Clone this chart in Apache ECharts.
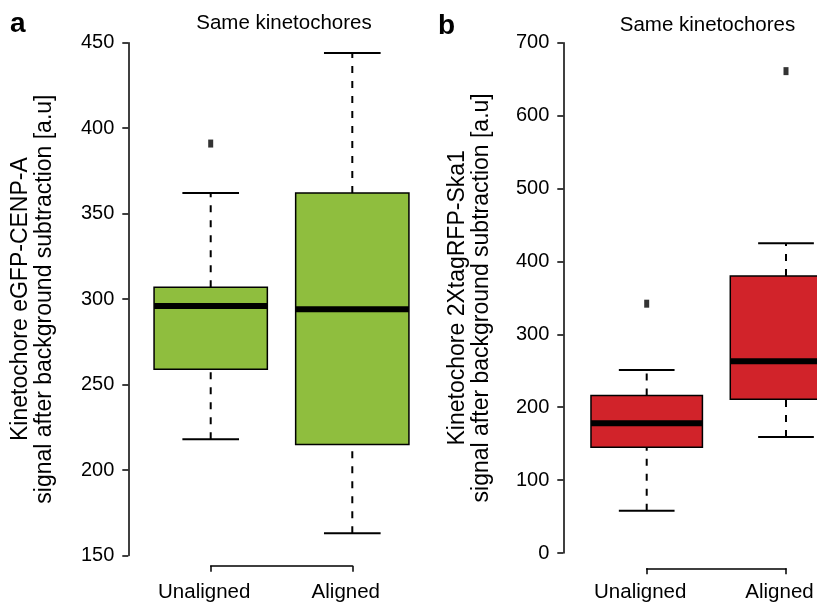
<!DOCTYPE html>
<html>
<head>
<meta charset="utf-8">
<script src="https://cdn.jsdelivr.net/npm/echarts@6/dist/echarts.min.js"></script>
<style>
html,body{margin:0;padding:0;background:#fff;}
#chart{width:817px;height:606px;}
</style>
</head>
<body>
<div id="chart"></div>
<script>
// ---- data ----
const categories = ['Unaligned', 'Aligned'];
// [lowerWhisker, Q1, median, Q3, upperWhisker]
const cenpaBoxes = [
  [218, 259, 296, 307, 362],
  [163, 215, 294, 362, 444]
];
const cenpaOutliers = [[0, 391]];
const ska1Boxes = [
  [58, 145, 178, 216, 251],
  [159, 211, 263, 380, 425]
];
const ska1Outliers = [[0, 342], [1, 661]];
const cenpaTicks = { min: 150, max: 450, interval: 50 };
const ska1Ticks = { min: 0, max: 700, interval: 100 };

const FONT = "'Liberation Sans', Arial, Helvetica, sans-serif";
const GREEN = '#8FBE3E';
const RED = '#D1232A';

function renderBox(params, api) {
  const x = api.value(0);
  const lo = api.coord([x, api.value(1)]);
  const q1 = api.coord([x, api.value(2)]);
  const med = api.coord([x, api.value(3)]);
  const q3 = api.coord([x, api.value(4)]);
  const hi = api.coord([x, api.value(5)]);
  const band = api.size([1, 0])[0];
  const half = band * 0.4;
  const capHalf = band * 0.2;
  const cx = lo[0];
  const color = api.visual('color');
  const dash = { stroke: '#000', lineWidth: 2, lineDash: [7, 8], fill: null };
  const solid = { stroke: '#000', lineWidth: 2, fill: null };
  return {
    type: 'group',
    children: [
      { type: 'line', shape: { x1: cx, y1: lo[1], x2: cx, y2: q1[1] }, style: dash },
      { type: 'line', shape: { x1: cx, y1: q3[1], x2: cx, y2: hi[1] }, style: dash },
      { type: 'line', shape: { x1: cx - capHalf, y1: lo[1], x2: cx + capHalf, y2: lo[1] }, style: solid },
      { type: 'line', shape: { x1: cx - capHalf, y1: hi[1], x2: cx + capHalf, y2: hi[1] }, style: solid },
      { type: 'rect', shape: { x: cx - half, y: q3[1], width: half * 2, height: q1[1] - q3[1] },
        style: { fill: color, stroke: '#000', lineWidth: 1.5 } },
      { type: 'line', shape: { x1: cx - half, y1: med[1], x2: cx + half, y2: med[1] },
        style: { stroke: '#000', lineWidth: 6 } }
    ]
  };
}

function boxData(boxes) {
  return boxes.map((b, i) => [i].concat(b));
}

function yAxisFor(gridIndex, ticks, offset, name, nameGap) {
  return {
    gridIndex: gridIndex,
    type: 'value',
    min: ticks.min, max: ticks.max, interval: ticks.interval,
    offset: offset,
    axisLine: { show: true, onZero: false, lineStyle: { color: '#000', width: 1.5 } },
    axisTick: { show: true, length: 6, lineStyle: { color: '#000', width: 1.5 } },
    axisLabel: { color: '#000', fontSize: 20, fontFamily: FONT, margin: 14 },
    splitLine: { show: false },
    name: name,
    nameLocation: 'middle',
    nameRotate: 90,
    nameGap: nameGap,
    nameTextStyle: { color: '#000', fontSize: 23, fontFamily: FONT, lineHeight: 24 }
  };
}

function xAxisFor(gridIndex, offset, margin) {
  return {
    gridIndex: gridIndex,
    type: 'category',
    data: categories,
    boundaryGap: false,
    offset: offset,
    axisLine: { show: true, onZero: false, lineStyle: { color: '#000', width: 1.5 } },
    axisTick: { show: true, length: 6, lineStyle: { color: '#000', width: 1.5 } },
    axisLabel: { color: '#000', fontSize: 20.5, fontFamily: FONT, margin: margin, interval: 0, padding: [0, 13, 0, 0] },
    splitLine: { show: false }
  };
}

const chart = echarts.init(document.getElementById('chart'), null, { renderer: 'canvas' });
chart.setOption({
  animation: false,
  backgroundColor: '#fff',
  grid: [
    { left: 210.7, right: 464.7, top: 42.7, bottom: 50.5, containLabel: false, outerBoundsMode: 'none' },
    { left: 646.7, right: 31, top: 42.7, bottom: 53, containLabel: false, outerBoundsMode: 'none' }
  ],
  xAxis: [xAxisFor(0, 10.2, 16), xAxisFor(1, 15.3, 14)],
  yAxis: [
    yAxisFor(0, cenpaTicks, 82.4, 'Kinetochore eGFP-CENP-A\nsignal after background subtraction [a.u]', 72),
    yAxisFor(1, ska1Ticks, 83.4, 'Kinetochore 2XtagRFP-Ska1\nsignal after background subtraction [a.u]', 70)
  ],
  graphic: [
    { type: 'text', x: 10, y: 10, style: { text: 'a', font: 'bold 28px ' + FONT, fill: '#000' } },
    { type: 'text', x: 438, y: 12, style: { text: 'b', font: 'bold 28px ' + FONT, fill: '#000' } },
    { type: 'text', x: 284, y: 13, style: { text: 'Same kinetochores', font: '20.5px ' + FONT, fill: '#000', textAlign: 'center' } },
    { type: 'text', x: 707.5, y: 15, style: { text: 'Same kinetochores', font: '20.5px ' + FONT, fill: '#000', textAlign: 'center' } }
  ],
  series: [
    {
      type: 'custom', name: 'eGFP-CENP-A', xAxisIndex: 0, yAxisIndex: 0,
      renderItem: renderBox, itemStyle: { color: GREEN },
      encode: { x: 0, y: [1, 2, 3, 4, 5] },
      data: boxData(cenpaBoxes), clip: false
    },
    {
      type: 'scatter', xAxisIndex: 0, yAxisIndex: 0, symbol: 'rect', symbolSize: [5, 8],
      itemStyle: { color: '#000' }, data: cenpaOutliers, clip: false
    },
    {
      type: 'custom', name: '2XtagRFP-Ska1', xAxisIndex: 1, yAxisIndex: 1,
      renderItem: renderBox, itemStyle: { color: RED },
      encode: { x: 0, y: [1, 2, 3, 4, 5] },
      data: boxData(ska1Boxes), clip: false
    },
    {
      type: 'scatter', xAxisIndex: 1, yAxisIndex: 1, symbol: 'rect', symbolSize: [5, 8],
      itemStyle: { color: '#000' }, data: ska1Outliers, clip: false
    }
  ]
});
</script>
</body>
</html>
